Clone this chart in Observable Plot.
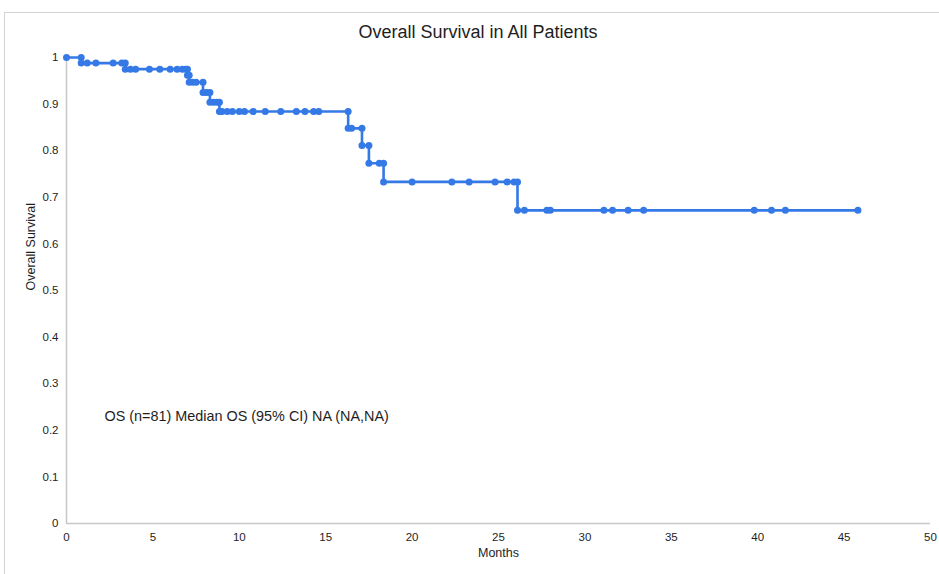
<!DOCTYPE html>
<html>
<head>
<meta charset="utf-8">
<script src="https://cdn.jsdelivr.net/npm/d3@7"></script>
<script src="https://cdn.jsdelivr.net/npm/@observablehq/plot@0.6"></script>
<style>
  body { margin: 0; background: #fff; font-family: "Liberation Sans", Arial, sans-serif; }
  #wrap { position: relative; width: 939px; height: 574px; overflow: hidden; }
  #box { position: absolute; left: 4px; top: 12px; width: 980px; height: 620px;
         border-top: 1px solid #d2d2d2; border-left: 1px solid #d2d2d2; }
  #title { position: absolute; top: 22px; left: 478px; transform: translateX(-50%);
           font-size: 18px; line-height: 20px; color: #1e1e1e; white-space: nowrap; }
  #chart { position: absolute; left: 0; top: 0; }
</style>
</head>
<body>
<div id="wrap">
  <div id="box"></div>
  <div id="title">Overall Survival in All Patients</div>
  <div id="chart"></div>
</div>
<script>
// Kaplan–Meier overall survival, all patients (n = 81)
const eventMonths   = [0.85, 3.4, 7.0, 7.1, 7.9, 8.3, 8.85, 16.3, 17.1, 17.5, 18.35, 26.1];
const survivalAfter = [0.988, 0.975, 0.962, 0.947, 0.925, 0.904, 0.884, 0.848, 0.811, 0.773, 0.733, 0.672];
const censorMonths  = [1.2, 1.7, 2.7, 3.2, 3.7, 4.0, 4.8, 5.4, 6.0, 6.4, 6.7, 6.9,
                       7.3, 7.5, 8.1, 8.5, 8.7,
                       9.0, 9.3, 9.6, 10.0, 10.3, 10.8, 11.5, 12.4, 13.3, 13.8, 14.3, 14.6,
                       16.5, 18.1, 20.0, 22.3, 23.3, 24.8, 25.5, 25.9,
                       26.5, 27.8, 28.0, 31.1, 31.6, 32.5, 33.4, 39.8, 40.8, 41.6, 45.8];
const xTicks = [0, 5, 10, 15, 20, 25, 30, 35, 40, 45, 50];
const yTicks = [0, 0.1, 0.2, 0.3, 0.4, 0.5, 0.6, 0.7, 0.8, 0.9, 1];
const noteText = "OS (n=81) Median OS (95% CI) NA (NA,NA)";

// survival level in force at month t
function survivalAt(t) {
  let s = 1;
  eventMonths.forEach((m, i) => { if (m <= t) s = survivalAfter[i]; });
  return s;
}

// step-curve vertices: both corners of every drop, plus every censored patient
const items = [];
eventMonths.forEach((m, i) => items.push({t: m, kind: "event", i}));
censorMonths.forEach(m => items.push({t: m, kind: "censor"}));
items.sort((a, b) => a.t - b.t);

const vertices = [{t: 0, s: 1}];
let level = 1;
for (const it of items) {
  if (it.kind === "event") {
    vertices.push({t: it.t, s: level});
    level = survivalAfter[it.i];
    vertices.push({t: it.t, s: level});
  } else {
    vertices.push({t: it.t, s: survivalAt(it.t)});
  }
}

const blue = "#3479e6";

const chart = Plot.plot({
  width: 939,
  height: 574,
  marginLeft: 66,
  marginRight: 9,
  marginTop: 57,
  marginBottom: 51,
  style: {fontFamily: "'Liberation Sans', Arial, sans-serif", fontSize: "11.5px", color: "#1e1e1e", background: "transparent"},
  x: {domain: [0, 50], ticks: xTicks, tickSize: 0, tickPadding: 9, label: null},
  y: {domain: [0, 1], ticks: yTicks, tickSize: 0, tickPadding: 8, label: null,
      tickFormat: d => String(+d.toFixed(1))},
  marks: [
    Plot.ruleX([0], {stroke: "#c8c8c8", strokeWidth: 1.5}),
    Plot.ruleY([0], {stroke: "#c8c8c8", strokeWidth: 1.5}),
    Plot.line(vertices, {x: "t", y: "s", stroke: blue, strokeWidth: 2.6}),
    Plot.dot(vertices, {x: "t", y: "s", fill: blue, r: 3.5}),
    Plot.text([noteText], {x: 2.2, y: 0.23, text: d => d, textAnchor: "start", fontSize: 14.4, fill: "#1e1e1e"}),
    Plot.text(["Months"], {frameAnchor: "bottom", dy: 33, text: d => d, fontSize: 12.5, fill: "#1e1e1e"}),
    Plot.text(["Overall Survival"], {frameAnchor: "left", dx: -36, rotate: -90, text: d => d, fontSize: 12.5, fill: "#1e1e1e"})
  ]
});

document.getElementById("chart").appendChild(chart);
</script>
</body>
</html>
